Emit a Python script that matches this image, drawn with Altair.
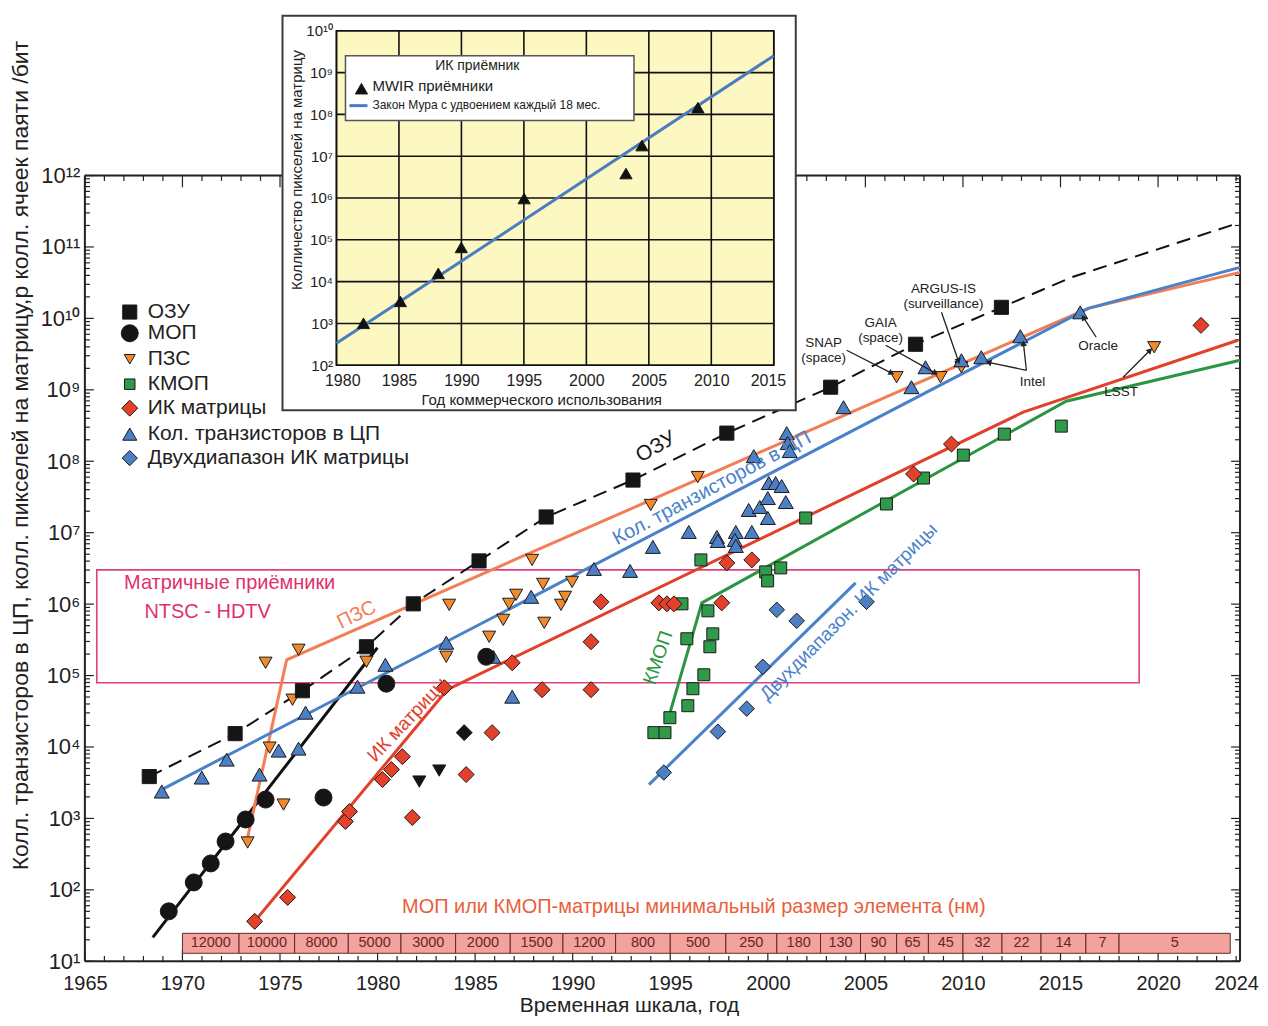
import math
import altair as alt
import pandas as pd

FONT = "Liberation Sans"
INK = "#222222"

# ---------------- main chart: axes ----------------
X_DOMAIN = [1965, 2024.2]
Y_DOMAIN = [1e1, 1e12]
X_LABELS = [1965, 1970, 1975, 1980, 1985, 1990, 1995, 2000, 2005, 2010, 2015, 2020, 2024]
Y_POWERS = list(range(1, 13))
SUP = ["⁰", "¹", "²", "³", "⁴", "⁵", "⁶", "⁷", "⁸", "⁹", "¹⁰", "¹¹", "¹²"]

# ---------------- main chart: data (year, log10 of count) ----------------
RAM_X = [1968.3, 1972.7, 1976.15, 1979.43, 1981.83, 1985.2, 1988.64, 1993.09, 1997.9, 2003.22, 2007.57, 2011.97]
RAM_E = [3.586, 4.187, 4.788, 5.403, 6.004, 6.605, 7.22, 7.737, 8.394, 9.037, 9.638, 10.155]
RAM_LINE_X = RAM_X + [2015.55, 2024.2]
RAM_LINE_E = RAM_E + [10.574, 11.343]

MOS_X = [1969.3, 1970.58, 1971.45, 1972.21, 1973.24, 1974.26, 1977.23, 1980.45, 1985.57]
MOS_E = [1.699, 2.104, 2.37, 2.677, 2.985, 3.264, 3.292, 4.886, 5.263]
MOS_LINE_X = [1968.48, 1979.99]
MOS_LINE_E = [1.335, 5.389]

CCD_X = [1974.26, 1975.95, 1975.18, 1975.64, 1974.47, 1973.34, 1979.43, 1983.67, 1983.52, 1985.72,
         1986.44, 1986.74, 1987.1, 1987.92, 1988.48, 1988.54, 1989.4, 1989.61, 1989.97, 1994.0,
         1996.41, 2006.6, 2008.85, 2009.92, 2019.8]
CCD_E = [5.179, 5.361, 3.194, 4.662, 3.991, 2.663, 5.193, 5.99, 5.263, 5.543,
         5.78, 6.004, 6.13, 6.619, 6.283, 5.738, 5.99, 6.102, 6.311, 7.388,
         7.779, 9.177, 9.177, 9.316, 9.596]
CCD_LINE_X = [1973.34, 1975.34, 2016.42, 2024.2]
CCD_LINE_E = [2.733, 5.221, 10.141, 10.644]

CMOS_X = [1994.16, 1994.73, 1994.98, 1995.9, 1996.16, 1996.72, 1997.03, 1997.18, 1995.85, 1996.93,
          1995.6, 1996.57, 1999.89, 1999.99, 2000.66, 2001.94, 2006.08, 2007.98, 2010.02, 2012.12, 2015.04]
CMOS_E = [4.201, 4.201, 4.41, 4.578, 4.816, 5.011, 5.403, 5.584, 5.515, 5.906,
          6.004, 6.619, 6.451, 6.325, 6.507, 7.206, 7.402, 7.765, 8.086, 8.38, 8.492]
CMOS_LINE_X = [1994.93, 1996.62, 2015.29, 2024.2]
CMOS_LINE_E = [4.424, 6.018, 8.841, 9.414]

IR_X = [1973.7, 1975.39, 1978.35, 1978.56, 1980.25, 1980.71, 1981.27, 1981.78, 1983.42, 1984.54,
        1985.87, 1986.9, 1988.43, 1990.94, 1990.94, 1991.45, 1994.42, 1994.83, 1995.19, 1997.64,
        1997.9, 1999.18, 2007.47, 2009.41, 2022.2]
IR_E = [1.559, 1.894, 2.957, 3.097, 3.544, 3.684, 3.865, 3.013, 4.83, 3.614,
        4.201, 5.179, 4.802, 5.473, 4.802, 6.032, 6.018, 6.004, 6.004, 6.018,
        6.577, 6.619, 7.821, 8.24, 9.903]
IR_LINE_X = [1973.7, 1983.57, 2013.09, 2024.09]
IR_LINE_E = [1.559, 4.802, 8.687, 9.694]

CPU_X = [1968.94, 1970.99, 1972.27, 1973.95, 1974.93, 1975.95, 1976.31, 1978.97, 1980.4, 1983.52,
         1985.93, 1986.9, 1987.87, 1991.09, 1992.94, 1994.11, 1995.95, 1997.39, 1997.44, 1998.36,
         1998.31, 1998.36, 1999.18, 1999.02, 1999.59, 2000.0, 2000.0, 2000.92, 2000.05, 2000.4,
         2000.71, 1999.28, 2000.97, 2001.02, 2001.12, 2003.88, 2007.36, 2008.08, 2009.92, 2010.94,
         2012.94, 2016.01]
CPU_E = [3.376, 3.572, 3.823, 3.614, 3.949, 3.977, 4.48, 4.844, 5.151, 5.459,
         5.263, 4.704, 6.102, 6.493, 6.465, 6.801, 7.01, 6.94, 6.884, 7.01,
         6.898, 6.814, 7.01, 7.318, 7.36, 7.206, 7.485, 7.429, 7.695, 7.695,
         7.653, 8.072, 8.394, 8.254, 8.142, 8.757, 9.037, 9.316, 9.414, 9.456,
         9.75, 10.085]
CPU_LINE_X = [1968.94, 2016.42, 2024.2]
CPU_LINE_E = [3.404, 10.141, 10.714]

DUAL_X = [1994.67, 1997.44, 1998.92, 1999.74, 2000.46, 2001.48, 2005.06]
DUAL_E = [3.642, 4.215, 4.536, 5.123, 5.92, 5.766, 6.032]
DUAL_LINE_X = [1993.91, 2004.5]
DUAL_LINE_E = [3.474, 6.297]

BLK_DIAMOND_X = [1984.44]
BLK_DIAMOND_E = [4.201]
BLK_TRI_X = [1982.14, 1983.16]
BLK_TRI_E = [3.516, 3.67]

# NTSC - HDTV band
NTSC_X = [1965.61, 2019.03]
NTSC_E = [4.9, 6.479]

# minimal feature size band (nm)
NM_EDGES = [1970, 1972.9, 1975.75, 1978.5, 1981.2, 1984.0, 1986.8, 1989.5, 1992.2, 1995.0, 1997.85,
            2000.46, 2002.7, 2004.75, 2006.6, 2008.23, 2010.0, 2012.0, 2014.0, 2016.3, 2018.0, 2023.7]
NM_LABELS = ["12000", "10000", "8000", "5000", "3000", "2000", "1500", "1200", "800", "500", "250",
             "180", "130", "90", "65", "45", "32", "22", "14", "7", "5"]
NM_E = [1.112, 1.391]

# legend
LEG_TEXT = ["ОЗУ", "МОП", "ПЗС", "КМОП", "ИК матрицы", "Кол. транзисторов в ЦП", "Двухдиапазон ИК матрицы"]
LEG_E = [10.089, 9.792, 9.428, 9.079, 8.743, 8.38, 8.044]
LEG_MARK_X = 1967.3
LEG_TEXT_X = 1968.22

# annotations
ANN_TEXT = ["SNAP", "(space)", "GAIA", "(space)", "ARGUS-IS", "(surveillance)", "Oracle", "Intel", "LSST"]
ANN_X = [2002.86, 2002.86, 2005.78, 2005.78, 2009.0, 2009.0, 2016.93, 2013.56, 2018.11]
ANN_E = [9.662, 9.442, 9.941, 9.722, 10.41, 10.197, 9.61, 9.107, 8.967]
ARROW_X0 = [2004.04, 2006.04, 2008.9, 2016.83, 2013.25, 2013.25, 2018.21]
ARROW_E0 = [9.554, 9.624, 10.085, 9.736, 9.274, 9.274, 9.177]
ARROW_X1 = [2006.34, 2008.59, 2009.77, 2016.17, 2011.31, 2013.1, 2019.59]
ARROW_E1 = [9.233, 9.233, 9.4, 10.015, 9.386, 9.652, 9.554]

# ---------------- inset data ----------------
IN_X_DOMAIN = [1980, 2015]
IN_Y_DOMAIN = [1e2, 1e10]
IN_X_LABELS = [1980, 1985, 1990, 1995, 2000, 2005, 2010, 2015]
IN_Y_POWERS = list(range(2, 11))
MWIR_X = [1982.16, 1985.11, 1988.15, 1989.99, 1995.02, 2003.17, 2004.45, 2008.93]
MWIR_E = [3.003, 3.528, 4.197, 4.818, 5.988, 6.585, 7.254, 8.161]
MOORE_X = [1980, 2015]
MOORE_E = [2.525, 9.403]
IN_BOX_X = [1975.68, 2016.76]
IN_BOX_E = [0.925, 10.358]
IN_LEG_X = [1980.72, 2003.81]
IN_LEG_E = [7.851, 9.403]

# ---------------- layout constants ----------------
W, H = 1157, 787
PXY = W / (X_DOMAIN[1] - X_DOMAIN[0])      # px per year
PXD = H / 11.0                              # px per decade

MAIN_X = alt.Scale(domain=X_DOMAIN, nice=False, zero=False)
MAIN_Y = alt.Scale(type="log", domain=Y_DOMAIN, nice=False)
IN_X = alt.Scale(domain=IN_X_DOMAIN, range=[252, 690], nice=False, zero=False)
IN_Y = alt.Scale(type="log", domain=IN_Y_DOMAIN, range=[190, -145], nice=False)

MX = alt.X("x:Q", scale=MAIN_X, axis=None)
MY = alt.Y("y:Q", scale=MAIN_Y, axis=None)
IX = alt.X("x:Q", scale=IN_X, axis=None)
IY = alt.Y("y:Q", scale=IN_Y, axis=None)

SUP_EXPR = "'10' + [" + ",".join("'%s'" % s for s in SUP) + "][round(log(datum.value) / LN10)]"


def df_xy(xv, ev):
    return pd.DataFrame({"x": xv, "y": [10.0 ** v for v in ev]})


def points(xv, ev, shape, size, fill, stroke="#1a1a1a", sw=1.0, inset=False):
    return alt.Chart(df_xy(xv, ev)).mark_point(
        shape=shape, size=size, filled=True, fill=fill, stroke=stroke, strokeWidth=sw, opacity=1
    ).encode(x=IX if inset else MX, y=IY if inset else MY)


def line(xv, ev, color, width=3.0, dash=None, inset=False):
    kw = dict(color=color, strokeWidth=width)
    if dash:
        kw["strokeDash"] = dash
    return alt.Chart(df_xy(xv, ev)).mark_line(**kw).encode(x=IX if inset else MX, y=IY if inset else MY)


def text(txt, xv, ev, size, color, angle=0, align="center", inset=False):
    d = df_xy(xv, ev)
    d["t"] = txt
    return alt.Chart(d).mark_text(
        font=FONT, fontSize=size, color=color, angle=angle, align=align, baseline="middle"
    ).encode(x=IX if inset else MX, y=IY if inset else MY, text="t:N")


def rect(x0, x1, e0, e1, fill, stroke, sw, fill_opacity=1.0, inset=False):
    d = pd.DataFrame({"x": [x0], "x2": [x1], "y": [10.0 ** e0], "y2": [10.0 ** e1]})
    return alt.Chart(d).mark_rect(
        fill=fill, fillOpacity=fill_opacity, stroke=stroke, strokeWidth=sw
    ).encode(x=IX if inset else MX, x2="x2:Q", y=IY if inset else MY, y2="y2:Q")


# colours
BLUE_M, BLUE_L = "#4c7fc3", "#4a82c9"
ORANGE_M, ORANGE_L = "#f08a2e", "#f27e55"
RED_M, RED_L = "#e4412b", "#e1402a"
GREEN_M, GREEN_L = "#2f9a4a", "#2c9541"
MAGENTA = "#e0407f"

# ---------------- main axes, frame and inward ticks ----------------
tick_rows = []
for yr in range(1965, 2025):
    L = 0.165 if yr % 5 == 0 else 0.075
    tick_rows.append(dict(x=yr, x2=yr, y=10.0, y2=10.0 ** (1 + L)))
    tick_rows.append(dict(x=yr, x2=yr, y=1e12, y2=10.0 ** (12 - L)))
for k in range(1, 13):
    for m in range(1, 10):
        if k == 12 and m > 1:
            continue
        v = m * 10.0 ** k
        L = 0.46 if m == 1 else 0.26
        tick_rows.append(dict(x=X_DOMAIN[0], x2=X_DOMAIN[0] + L, y=v, y2=v))
        tick_rows.append(dict(x=X_DOMAIN[1] - L, x2=X_DOMAIN[1], y=v, y2=v))
ticks_df = pd.DataFrame(tick_rows)

frame_df = pd.DataFrame([
    dict(x=X_DOMAIN[0], x2=X_DOMAIN[1], y=Y_DOMAIN[0], y2=Y_DOMAIN[0]),
    dict(x=X_DOMAIN[0], x2=X_DOMAIN[1], y=Y_DOMAIN[1], y2=Y_DOMAIN[1]),
    dict(x=X_DOMAIN[0], x2=X_DOMAIN[0], y=Y_DOMAIN[0], y2=Y_DOMAIN[1]),
    dict(x=X_DOMAIN[1], x2=X_DOMAIN[1], y=Y_DOMAIN[0], y2=Y_DOMAIN[1]),
])

main_x_axis = alt.Axis(
    orient="bottom", values=X_LABELS, format="d", ticks=False, tickSize=0, domain=False, grid=False,
    labelFontSize=20, labelPadding=12, labelColor=INK, labelFlush=False, labelOverlap=False,
    labelFont=FONT, titleFont=FONT,
    titleFontSize=21, titleFontWeight="normal", titleColor=INK, titleX=545, titleY=44,
    titleAlign="center", titleBaseline="middle",
)
main_y_axis = alt.Axis(
    orient="left", values=[10.0 ** p for p in Y_POWERS], labelExpr=SUP_EXPR, ticks=False, tickSize=0,
    domain=False, grid=False, labelFontSize=22, labelPadding=5, labelColor=INK, labelFlush=False,
    labelFont=FONT, titleFont=FONT,
    labelOverlap=False, titleFontSize=23, titleFontWeight="normal", titleColor=INK, titleAngle=270,
    titleX=-64, titleY=280, titleAlign="center", titleBaseline="middle",
)
ticks_layer = alt.Chart(ticks_df).mark_rule(color=INK, strokeWidth=1.2).encode(
    x=alt.X("x:Q", scale=MAIN_X, axis=main_x_axis, title="Временная шкала, год"),
    x2="x2:Q",
    y=alt.Y("y:Q", scale=MAIN_Y, axis=main_y_axis,
            title="Колл. транзисторов в ЦП, колл. пикселей на матрицу,р колл. ячеек паяти /бит"),
    y2="y2:Q",
)
frame_layer = alt.Chart(frame_df).mark_rule(color=INK, strokeWidth=2).encode(
    x=MX, x2="x2:Q", y=MY, y2="y2:Q")

# nm band
nm_df = pd.DataFrame({
    "x": NM_EDGES[:-1], "x2": NM_EDGES[1:],
    "y": [10.0 ** NM_E[0]] * len(NM_LABELS), "y2": [10.0 ** NM_E[1]] * len(NM_LABELS),
    "t": NM_LABELS,
})
nm_df["xm"] = (nm_df["x"] + nm_df["x2"]) / 2
nm_df["ym"] = 10.0 ** ((NM_E[0] + NM_E[1]) / 2)
nm_rects = alt.Chart(nm_df).mark_rect(fill="#f4a29d", stroke="#5c2b2b", strokeWidth=1).encode(
    x=MX, x2="x2:Q", y=MY, y2="y2:Q")
nm_text = alt.Chart(nm_df).mark_text(font=FONT, fontSize=14.5, color="#6b2424", baseline="middle").encode(
    x=alt.X("xm:Q", scale=MAIN_X, axis=None), y=alt.Y("ym:Q", scale=MAIN_Y, axis=None), text="t:N")

# arrows
arr_rows = []
for x0, e0, x1, e1 in zip(ARROW_X0, ARROW_E0, ARROW_X1, ARROW_E1):
    dx = (x1 - x0) * PXY
    dy = -(e1 - e0) * PXD
    ang = math.degrees(math.atan2(dx, -dy)) % 360
    arr_rows.append(dict(x=x0, x2=x1, y=10.0 ** e0, y2=10.0 ** e1, ang=ang))
arr_df = pd.DataFrame(arr_rows)
arrow_lines = alt.Chart(arr_df).mark_rule(color=INK, strokeWidth=1.3).encode(
    x=MX, x2="x2:Q", y=MY, y2="y2:Q")
arrow_heads = alt.Chart(arr_df).mark_point(shape="triangle-up", size=45, filled=True, color=INK, opacity=1).encode(
    x=alt.X("x2:Q", scale=MAIN_X, axis=None), y=alt.Y("y2:Q", scale=MAIN_Y, axis=None),
    angle=alt.Angle("ang:Q", scale=None))

main_layers = [
    ticks_layer,
    frame_layer,
    rect(NTSC_X[0], NTSC_X[1], NTSC_E[0], NTSC_E[1], "white", MAGENTA, 1.6, fill_opacity=0),
    nm_rects, nm_text,
    line(RAM_LINE_X, RAM_LINE_E, "#111111", 2.0, dash=[14, 8]),
    line(MOS_LINE_X, MOS_LINE_E, "#111111", 3.0),
    line(CCD_LINE_X, CCD_LINE_E, ORANGE_L, 3.0),
    line(CPU_LINE_X, CPU_LINE_E, BLUE_L, 3.0),
    line(IR_LINE_X, IR_LINE_E, RED_L, 3.0),
    line(CMOS_LINE_X, CMOS_LINE_E, GREEN_L, 3.0),
    line(DUAL_LINE_X, DUAL_LINE_E, BLUE_L, 3.0),
    points(CMOS_X, CMOS_E, "square", 144, GREEN_M),
    points(IR_X, IR_E, "diamond", 256, RED_M),
    points(DUAL_X, DUAL_E, "diamond", 240, BLUE_M),
    points(CCD_X, CCD_E, "triangle-down", 170, ORANGE_M),
    points(CPU_X, CPU_E, "triangle-up", 225, BLUE_M),
    points(BLK_DIAMOND_X, BLK_DIAMOND_E, "diamond", 256, "#151515"),
    points(BLK_TRI_X, BLK_TRI_E, "triangle-down", 170, "#151515"),
    points(MOS_X, MOS_E, "circle", 289, "#151515"),
    points(RAM_X, RAM_E, "square", 200, "#151515"),
    # line labels
    text(["ОЗУ"], [1994.27], [8.198], 21, "#1a1a1a", angle=330),
    text(["Кол. транзисторов в ЦП"], [1997.13], [7.625], 20, BLUE_L, angle=332),
    text(["ПЗС"], [1978.92], [5.85], 20, ORANGE_L, angle=334),
    text(["ИК матрицы"], [1981.53], [4.382], 19, RED_L, angle=313),
    text(["КМОП"], [1994.37], [5.249], 19, GREEN_L, angle=289),
    text(["Двухдиапазон. ИК матрицы"], [2004.14], [5.892], 19, BLUE_L, angle=315),
    text(["Матричные приёмники"], [1972.42], [6.297], 20, "#e0306f"),
    text(["NTSC - HDTV"], [1971.29], [5.892], 20, "#e0306f"),
    text(["МОП или КМОП-матрицы минимальный размер элемента (нм)"], [1996.21], [1.755], 20, "#e8603a"),
    # annotations
    arrow_lines, arrow_heads,
    text(ANN_TEXT, ANN_X, ANN_E, 13.5, INK),
    # legend
    points([LEG_MARK_X], [LEG_E[0]], "square", 200, "#151515"),
    points([LEG_MARK_X], [LEG_E[1]], "circle", 289, "#151515"),
    points([LEG_MARK_X], [LEG_E[2]], "triangle-down", 120, ORANGE_M),
    points([LEG_MARK_X], [LEG_E[3]], "square", 110, GREEN_M),
    points([LEG_MARK_X], [LEG_E[4]], "diamond", 256, RED_M),
    points([LEG_MARK_X], [LEG_E[5]], "triangle-up", 200, BLUE_M),
    points([LEG_MARK_X], [LEG_E[6]], "diamond", 230, BLUE_M),
    text(LEG_TEXT, [LEG_TEXT_X] * len(LEG_TEXT), LEG_E, 21, INK, align="left"),
]

# ---------------- inset ----------------
grid_rows = []
for yr in IN_X_LABELS:
    grid_rows.append(dict(x=yr, x2=yr, y=IN_Y_DOMAIN[0], y2=IN_Y_DOMAIN[1]))
for p in IN_Y_POWERS:
    grid_rows.append(dict(x=IN_X_DOMAIN[0], x2=IN_X_DOMAIN[1], y=10.0 ** p, y2=10.0 ** p))
grid_df = pd.DataFrame(grid_rows)

in_x_axis = alt.Axis(
    orient="bottom", offset=190 - H, values=IN_X_LABELS, format="d", ticks=False, tickSize=0, domain=False,
    grid=False, labelFontSize=16, labelPadding=7, labelColor=INK, labelFlush=True, labelFlushOffset=12,
    labelOverlap=False, labelFont=FONT, titleFont=FONT,
    titleFontSize=15, titleFontWeight="normal", titleColor=INK, titleX=457, titleY=34,
    titleAlign="center", titleBaseline="middle", zindex=2,
)
in_y_axis = alt.Axis(
    orient="left", offset=-252, values=[10.0 ** p for p in IN_Y_POWERS], labelExpr=SUP_EXPR, ticks=False,
    tickSize=0, domain=False, grid=False, labelFontSize=15, labelPadding=4, labelColor=INK,
    labelFont=FONT, titleFont=FONT,
    labelFlush=False, labelOverlap=False, titleFontSize=15, titleFontWeight="normal", titleColor=INK,
    titleAngle=270, titleX=-40, titleY=-6, titleAlign="center", titleBaseline="middle", zindex=2,
)
grid_layer = alt.Chart(grid_df).mark_rule(color="#111111", strokeWidth=1.6).encode(
    x=alt.X("x:Q", scale=IN_X, axis=in_x_axis, title="Год коммерческого использования"),
    x2="x2:Q",
    y=alt.Y("y:Q", scale=IN_Y, axis=in_y_axis, title="Колличество пикселей на матрицу"),
    y2="y2:Q",
)

inset_layers = [
    rect(IN_BOX_X[0], IN_BOX_X[1], IN_BOX_E[0], IN_BOX_E[1], "white", "#3c3c3c", 2, inset=True),
    rect(IN_X_DOMAIN[0], IN_X_DOMAIN[1], 2, 10, "#fdf8c2", "#111111", 1.6, inset=True),
    grid_layer,
    line(MOORE_X, MOORE_E, "#4a7cbf", 3.0, inset=True),
    points(MWIR_X, MWIR_E, "triangle-up", 150, "#111111", inset=True),
    rect(IN_LEG_X[0], IN_LEG_X[1], IN_LEG_E[0], IN_LEG_E[1], "white", "#555555", 1.5, inset=True),
    text(["ИК приёмник"], [1991.27], [9.164], 14, INK, inset=True),
    points([1982.0], [8.615], "triangle-up", 150, "#111111", inset=True),
    text(["MWIR приёмники"], [1982.88], [8.687], 15, INK, align="left", inset=True),
    line([1981.04, 1982.48], [8.209, 8.209], "#4a7cbf", 3.0, inset=True),
    text(["Закон Мура с удвоением каждый 18 мес."], [1982.88], [8.233], 12, INK, align="left", inset=True),
]

chart = alt.layer(*main_layers, *inset_layers).resolve_scale(
    x="independent", y="independent"
).properties(
    width=W, height=H,
    autosize=alt.AutoSizeParams(type="none"),
    padding={"left": 77, "top": 167, "right": 20, "bottom": 56},
).configure_view(stroke=None).configure(background="white")

chart.save("out.html", embed_options={"renderer": "svg", "actions": False})
